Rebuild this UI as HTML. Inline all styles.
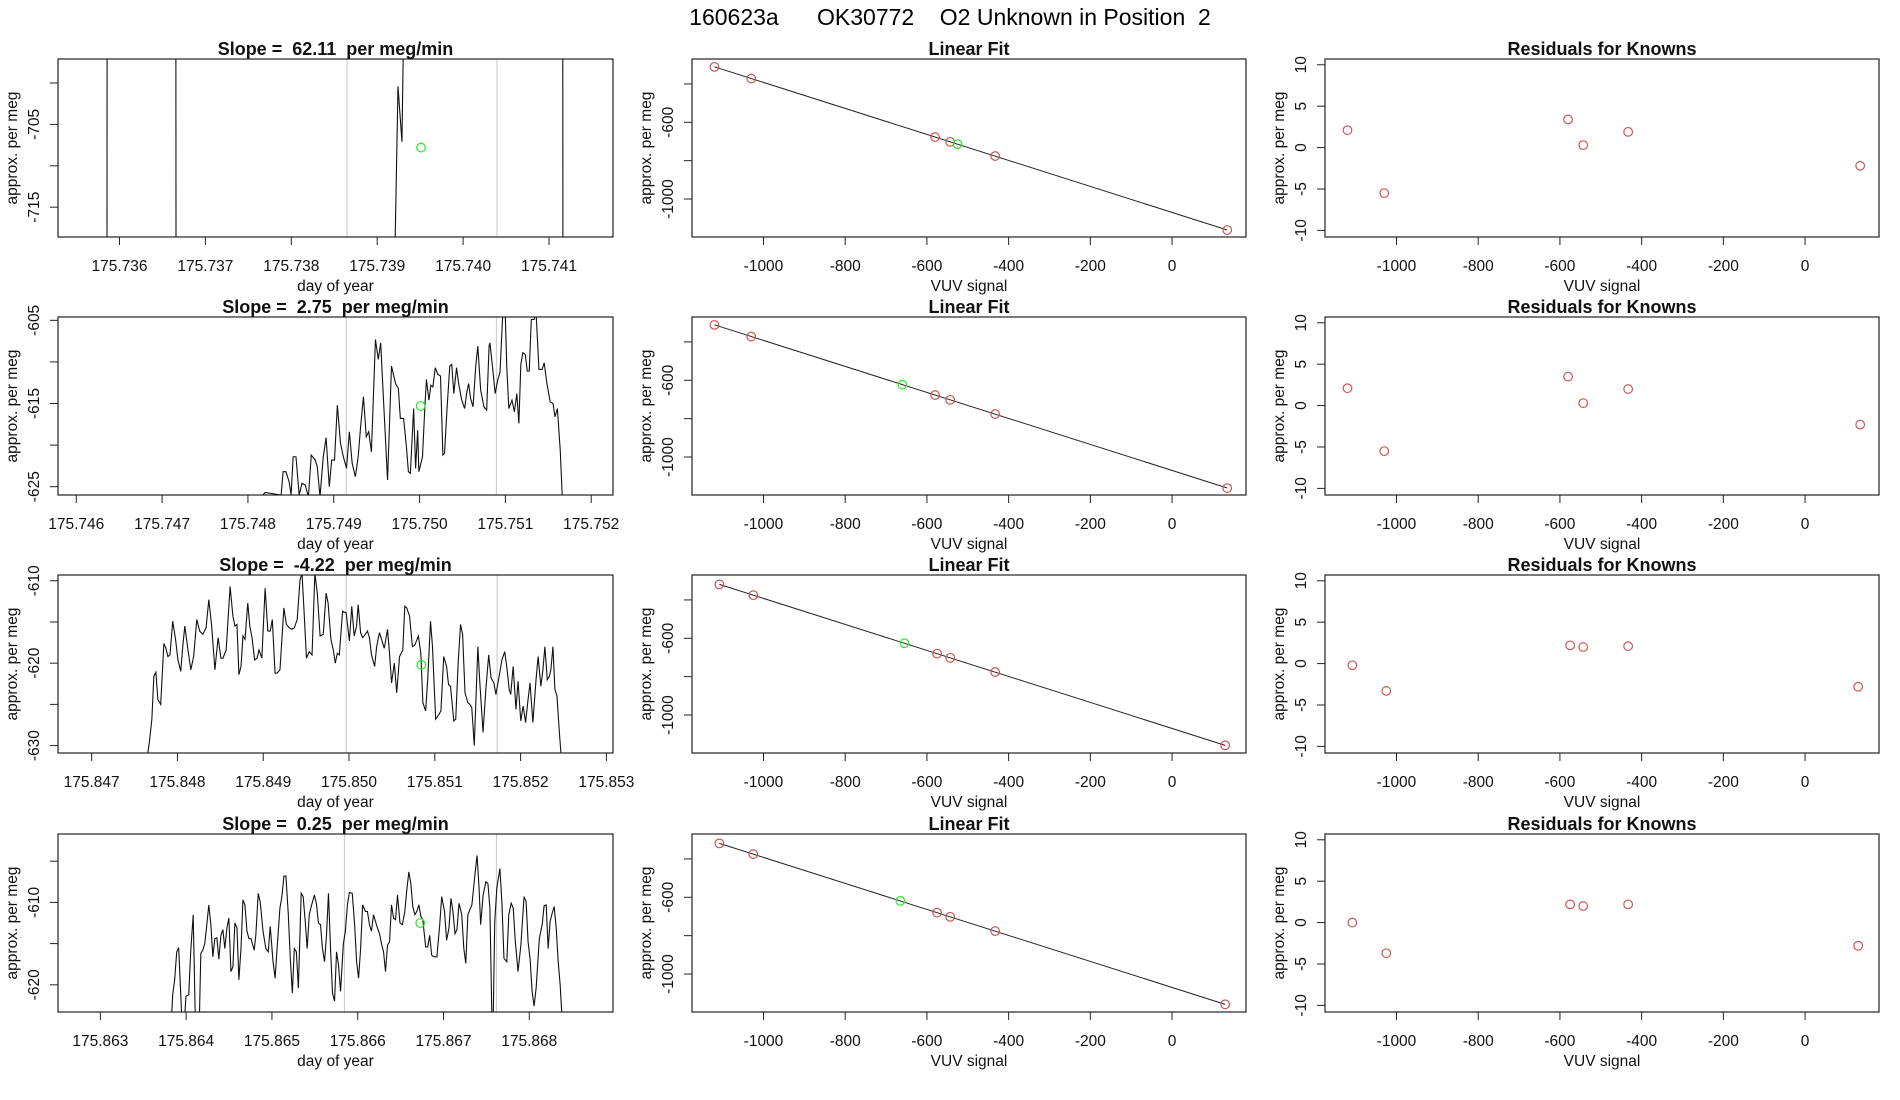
<!DOCTYPE html>
<html><head><meta charset="utf-8"><title>160623a OK30772 O2 Unknown in Position 2</title>
<style>
html,body{margin:0;padding:0;background:#fff;}
svg{display:block;font-family:"Liberation Sans",Arial,sans-serif;}
svg text{white-space:pre;}
</style></head>
<body>
<svg id="chart" width="1900" height="1100" viewBox="0 0 1900 1100" xmlns="http://www.w3.org/2000/svg">
<rect x="0" y="0" width="1900" height="1100" fill="#fff"/>
<text x="950" y="25" font-size="23" text-anchor="middle" xml:space="preserve">160623a      OK30772    O2 Unknown in Position  2</text>
</svg>
<script>
// ---------- Data ----------
const slopes = ["62.11", "2.75", "-4.22", "0.25"];

// Row 1 time series
const t1 = [175.7350, 175.735853, 175.735856, 175.736656, 175.736659, 175.739172, 175.739242, 175.739288, 175.739312, 175.741160, 175.741163, 175.7420];
const v1 = [-740, -740, -690, -690, -740, -740, -700.4, -707.1, -690, -690, -740, -740];

// Row 2 time series
const t2 = [175.748176,175.748199,175.748387,175.748410,175.748443,175.748480,175.748503,175.748527,175.748560,175.748597,175.748630,175.748667,175.748705,175.748738,175.748784,175.748808,175.748840,175.748878,175.748911,175.748948,175.748976,175.749009,175.749042,175.749079,175.749112,175.749149,175.749182,175.749215,175.749252,175.749285,175.749313,175.749346,175.749379,175.749407,175.749439,175.749486,175.749519,175.749547,175.749580,175.749627,175.749673,175.749720,175.749753,175.749776,175.749814,175.749847,175.749870,175.749893,175.749931,175.749954,175.749978,175.749992,175.750034,175.750062,175.750080,175.750109,175.750132,175.750155,175.750183,175.750212,175.750244,175.750272,175.750291,175.750319,175.750352,175.750375,175.750399,175.750431,175.750455,175.750492,175.750525,175.750548,175.750572,175.750595,175.750623,175.750656,175.750679,175.750712,175.750750,175.750782,175.750810,175.750820,175.750853,175.750881,175.750913,175.750937,175.750970,175.750998,175.751016,175.751040,175.751077,175.751105,175.751133,175.751157,175.751180,175.751203,175.751232,175.751255,175.751278,175.751302,175.751335,175.751358,175.751391,175.751428,175.751452,175.751484,175.751522,175.751555,175.751578,175.751606,175.751639,175.751662,175.751709];
const v2 = [-626.0,-625.7,-626.0,-623.2,-623.2,-624.4,-626.0,-621.4,-621.4,-626.0,-624.6,-624.8,-626.2,-621.2,-621.8,-622.6,-626.2,-621.4,-619.1,-625.0,-621.8,-621.8,-615.2,-619.8,-621.4,-622.8,-618.4,-622.2,-623.8,-621.4,-617.8,-614.2,-619.0,-618.4,-620.8,-607.3,-609.7,-607.7,-614.6,-624.2,-610.5,-612.6,-613.2,-616.8,-616.8,-620.2,-623.2,-623.4,-615.6,-622.8,-618.2,-623.2,-621.4,-615.4,-612.1,-614.6,-612.8,-613.0,-610.7,-611.5,-611.7,-621.2,-621.0,-615.8,-610.5,-610.3,-613.8,-610.7,-612.6,-614.6,-615.6,-613.8,-612.6,-614.4,-615.4,-610.3,-608.1,-613.4,-615.4,-615.8,-608.1,-607.7,-610.9,-613.8,-612.1,-611.3,-604.1,-604.1,-610.5,-615.6,-614.6,-616.0,-613.8,-617.4,-610.3,-608.9,-609.1,-611.1,-611.1,-604.9,-604.9,-604.1,-610.9,-610.9,-610.1,-612.6,-614.8,-615.0,-616.6,-615.6,-620.6,-626.0,-630.6];

// Row 3 time series
const t3 = [175.847655,175.847674,175.847702,175.847725,175.847749,175.847772,175.847805,175.847842,175.847866,175.847889,175.847913,175.847945,175.847978,175.848006,175.848039,175.848062,175.848086,175.848118,175.848156,175.848189,175.848226,175.848259,175.848296,175.848334,175.848366,175.848399,175.848437,175.848474,175.848507,175.848530,175.848568,175.848614,175.848647,175.848671,175.848694,175.848717,175.848741,175.848764,175.848788,175.848820,175.848844,175.848872,175.848900,175.848928,175.848951,175.848984,175.849022,175.849054,175.849082,175.849106,175.849138,175.849162,175.849195,175.849241,175.849270,175.849302,175.849335,175.849363,175.849396,175.849429,175.849452,175.849475,175.849504,175.849536,175.849569,175.849602,175.849630,175.849663,175.849700,175.849733,175.849756,175.849789,175.849817,175.849840,175.849864,175.849887,175.849925,175.849967,175.850004,175.850032,175.850060,175.850088,175.850107,175.850135,175.850159,175.850191,175.850215,175.850238,175.850262,175.850299,175.850322,175.850355,175.850379,175.850411,175.850449,175.850472,175.850496,175.850528,175.850556,175.850589,175.850627,175.850650,175.850673,175.850706,175.850739,175.850767,175.850809,175.850837,175.850861,175.850893,175.850917,175.850950,175.850973,175.851010,175.851048,175.851071,175.851104,175.851137,175.851160,175.851183,175.851221,175.851244,175.851272,175.851300,175.851324,175.851352,175.851385,175.851408,175.851431,175.851460,175.851502,175.851525,175.851562,175.851595,175.851628,175.851656,175.851689,175.851712,175.851750,175.851782,175.851815,175.851843,175.851867,175.851885,175.851913,175.851946,175.851970,175.852002,175.852030,175.852058,175.852087,175.852110,175.852143,175.852180,175.852204,175.852236,175.852260,175.852283,175.852311,175.852335,175.852353,175.852377,175.852400,175.852424,175.852452,175.852475];
const v3 = [-630.9,-629.5,-626.8,-621.6,-621.1,-624.4,-625.0,-617.6,-618.2,-619.2,-619.0,-614.9,-617.1,-619.6,-621.0,-618.0,-615.5,-618.0,-620.8,-619.2,-614.7,-616.1,-616.5,-615.7,-612.3,-615.5,-620.8,-616.9,-619.4,-619.4,-618.4,-610.7,-614.3,-615.5,-615.3,-621.4,-620.4,-616.7,-617.1,-612.7,-615.5,-617.1,-619.6,-619.4,-618.4,-619.4,-610.9,-616.1,-616.1,-614.7,-621.2,-621.2,-620.8,-613.3,-615.3,-615.7,-615.9,-615.7,-614.7,-609.9,-609.1,-613.5,-619.4,-618.6,-619.0,-609.1,-611.5,-616.7,-616.5,-611.5,-612.7,-617.1,-618.4,-620.0,-618.8,-619.0,-613.7,-613.9,-617.3,-613.1,-616.7,-615.5,-612.9,-616.3,-616.9,-616.5,-616.1,-616.9,-619.0,-620.4,-618.0,-616.3,-617.1,-618.2,-615.9,-618.8,-622.4,-620.0,-623.6,-619.2,-618.4,-613.1,-613.3,-614.3,-618.0,-617.8,-616.7,-618.8,-624.8,-625.8,-622.0,-614.9,-618.0,-626.8,-626.2,-625.8,-619.2,-620.4,-622.6,-622.8,-627.0,-626.8,-620.0,-615.3,-616.5,-623.6,-624.8,-625.0,-625.4,-630.0,-618.0,-622.4,-628.4,-623.2,-619.0,-621.8,-622.4,-623.8,-621.6,-619.6,-618.6,-620.8,-623.2,-623.8,-620.4,-625.6,-622.2,-627.0,-625.2,-627.2,-624.4,-622.4,-627.2,-622.0,-619.2,-622.8,-620.8,-618.0,-622.0,-621.6,-620.8,-618.0,-623.2,-624.0,-628.4,-631.6];

// Row 4 time series
const t4 = [175.863833,175.863843,175.863866,175.863890,175.863913,175.863946,175.863974,175.863998,175.864030,175.864053,175.864082,175.864105,175.864133,175.864156,175.864171,175.864194,175.864217,175.864241,175.864264,175.864288,175.864311,175.864334,175.864358,175.864381,175.864405,175.864428,175.864451,175.864475,175.864498,175.864522,175.864545,175.864568,175.864592,175.864615,175.864639,175.864662,175.864685,175.864709,175.864732,175.864756,175.864793,175.864812,175.864840,175.864863,175.864896,175.864929,175.864957,175.864980,175.865013,175.865037,175.865060,175.865093,175.865116,175.865140,175.865163,175.865191,175.865214,175.865238,175.865261,175.865285,175.865308,175.865341,175.865364,175.865388,175.865411,175.865435,175.865458,175.865495,175.865519,175.865542,175.865566,175.865589,175.865613,175.865636,175.865659,175.865683,175.865706,175.865730,175.865753,175.865776,175.865800,175.865833,175.865856,175.865880,175.865903,175.865936,175.865964,175.865987,175.866010,175.866034,175.866057,175.866090,175.866113,175.866137,175.866160,175.866184,175.866207,175.866230,175.866254,175.866277,175.866301,175.866324,175.866347,175.866371,175.866394,175.866418,175.866441,175.866464,175.866493,175.866521,175.866549,175.866572,175.866596,175.866619,175.866642,175.866666,175.866689,175.866713,175.866736,175.866759,175.866792,175.866816,175.866839,175.866862,175.866886,175.866923,175.866956,175.866979,175.867012,175.867036,175.867064,175.867087,175.867110,175.867134,175.867157,175.867181,175.867213,175.867237,175.867260,175.867284,175.867307,175.867331,175.867368,175.867391,175.867415,175.867433,175.867462,175.867494,175.867518,175.867541,175.867565,175.867579,175.867597,175.867621,175.867658,175.867682,175.867705,175.867738,175.867761,175.867789,175.867813,175.867836,175.867869,175.867902,175.867939,175.867963,175.867986,175.868009,175.868033,175.868056,175.868080,175.868117,175.868150,175.868173,175.868197,175.868220,175.868243,175.868267,175.868290,175.868314,175.868337,175.868360,175.868384];
const v4 = [-623.3,-621.2,-619.4,-616.0,-615.5,-623.3,-625.2,-621.4,-621.2,-616.0,-611.5,-623.3,-625.6,-623.3,-616.2,-615.8,-615.0,-612.7,-610.3,-612.7,-616.6,-614.4,-614.3,-616.9,-614.0,-613.3,-615.6,-613.1,-611.9,-618.4,-617.8,-612.5,-613.1,-619.4,-615.6,-609.7,-610.3,-613.5,-614.4,-614.4,-615.8,-614.0,-608.9,-609.9,-613.5,-615.6,-616.0,-612.9,-617.2,-619.2,-615.6,-610.7,-609.3,-606.8,-606.8,-611.5,-616.8,-621.0,-615.6,-616.0,-620.4,-608.9,-609.3,-612.3,-615.6,-611.5,-610.5,-609.1,-610.2,-612.5,-612.7,-615.6,-617.2,-614.0,-608.9,-615.6,-621.0,-622.0,-616.0,-617.6,-620.8,-615.0,-613.5,-610.3,-608.8,-608.9,-612.7,-617.2,-619.2,-615.6,-610.3,-611.1,-611.1,-612.7,-613.5,-611.5,-612.3,-613.1,-613.8,-615.0,-616.0,-618.4,-615.2,-614.8,-610.3,-611.9,-612.1,-609.1,-612.5,-612.7,-611.1,-608.5,-606.3,-607.7,-610.5,-611.5,-611.1,-610.3,-611.7,-612.1,-615.4,-615.4,-614.0,-616.4,-616.6,-616.6,-612.7,-609.3,-611.1,-614.6,-613.1,-609.5,-611.1,-613.8,-613.3,-610.1,-611.5,-615.6,-617.4,-611.5,-610.9,-610.3,-606.5,-604.3,-608.3,-612.7,-609.1,-607.5,-607.7,-610.7,-624.4,-624.4,-612.5,-608.3,-605.9,-610.3,-616.8,-617.2,-611.5,-610.1,-610.7,-614.6,-618.4,-615.2,-609.3,-609.9,-614.8,-616.8,-620.8,-622.6,-620.4,-614.4,-612.7,-610.4,-610.3,-615.6,-612.3,-611.3,-610.5,-613.1,-617.2,-620.0,-624.4];

// Per-row x/y axis limits and ticks (time-series column)
const tsXlim = [[175.735284, 175.741745], [175.745787, 175.752254], [175.846608, 175.853077], [175.862506, 175.868976]];
const tsYlim = [[-718.6, -697.1], [-626.0, -604.6], [-630.9, -609.3], [-623.3, -601.7]];
const tsXticks = [
  ["175.736","175.737","175.738","175.739","175.740","175.741"],
  ["175.746","175.747","175.748","175.749","175.750","175.751","175.752"],
  ["175.847","175.848","175.849","175.850","175.851","175.852","175.853"],
  ["175.863","175.864","175.865","175.866","175.867","175.868"]
];
const tsYticks = [[-715,-710,-705,-700],[-625,-620,-615,-610,-605],[-630,-625,-620,-615,-610],[-620,-615,-610,-605]];
const tsYlabels = [["-715","","-705",""],["-625","","-615","","-605"],["-630","","-620","","-610"],["-620","","-610",""]];
const grayLines = [[175.738648, 175.740395], [175.749146, 175.750896], [175.849967, 175.851727], [175.865846, 175.867618]];
const unkTime = [175.739510, 175.750012, 175.850843, 175.866729];
const unkValue = [-707.8, -615.3, -620.2, -612.5];

// Linear fit column
const knownX = [[-1120,-1030,-580,-543,-433,135],[-1120,-1030,-580,-543,-433,135],[-1108,-1025,-575,-543,-433,130],[-1108,-1025,-575,-543,-433,130]];
const knownY = [[-311,-372,-677,-702,-776,-1162],[-311,-372,-677,-702,-776,-1162],[-319,-375,-680,-702,-776,-1158],[-319,-375,-680,-702,-776,-1158]];
const fitSlope = [-0.678, -0.678, -0.678, -0.678];
const fitIntercept = [-1070, -1070, -1070, -1070];
const unkSignal = [-525, -660, -655, -665];
const unkFitY = [-714, -623, -626, -619];
const lfXlim = [-1175, 181];
const lfYlim = [-1198, -270];
const lfYticks = [-1000, -800, -600, -400];
const lfYlabels = ["-1000", "", "-600", ""];
const vuvTicks = [-1000, -800, -600, -400, -200, 0];

// Residuals column
const residuals = [[2.1,-5.5,3.4,0.3,1.9,-2.2],[2.1,-5.5,3.5,0.3,2.0,-2.3],[-0.2,-3.3,2.2,2.0,2.1,-2.8],[0.0,-3.7,2.2,2.0,2.2,-2.8]];
const resYlim = [-10.8, 10.7];
const resYticks = [-10, -5, 0, 5, 10];

// ---------- Layout ----------
const NS = "http://www.w3.org/2000/svg";
const svg = document.getElementById("chart");
const colX = [[58, 613], [692, 1246], [1325, 1879]];
const rowY = [[59, 237], [317, 495], [575, 753], [834, 1012]];
const RED = "#cc5555", GREEN = "#22ee22";

function mk(tag, attrs, parent) {
  const e = document.createElementNS(NS, tag);
  for (const k in attrs) e.setAttribute(k, attrs[k]);
  (parent || svg).appendChild(e);
  return e;
}
function scale(d0, d1, r0, r1) { return v => r0 + (v - d0) * (r1 - r0) / (d1 - d0); }

function frame(g, x0, x1, y0, y1, xs, ys, xt, xl, yt, yl, title, xtitle) {
  const box = mk("rect", {x: x0, y: y0, width: x1 - x0, height: y1 - y0, fill: "none", stroke: "#222", "stroke-width": 1.2}, g);
  
  
  const xa = mk("g", {}, g);
  
  
  xt.forEach((v, i) => {
    const px = xs(v);
    mk("line", {x1: px, x2: px, y1: y1, y2: y1 + 8, stroke: "#222", "stroke-width": 1}, xa);
    const tx = mk("text", {x: px, y: y1 + 34, "font-size": 15.5, "text-anchor": "middle", fill: "#111"}, xa);
    
    
    tx.textContent = xl[i];
  });
  const ya = mk("g", {}, g);
  
  
  yt.forEach((v, i) => {
    const py = ys(v);
    mk("line", {x1: x0 - 8, x2: x0, y1: py, y2: py, stroke: "#222", "stroke-width": 1}, ya);
    if (yl[i] !== "") {
      const tx = mk("text", {x: x0 - 19, y: py, "font-size": 15.5, "text-anchor": "middle", fill: "#111", transform: `rotate(-90 ${x0 - 19} ${py})`}, ya);
      
      
      tx.textContent = yl[i];
    }
  });
  const cx = (x0 + x1) / 2, cy = (y0 + y1) / 2;
  const yt2 = mk("text", {x: x0 - 41, y: cy, "font-size": 15.5, "text-anchor": "middle", fill: "#111", transform: `rotate(-90 ${x0 - 41} ${cy})`}, g);
  
  
  yt2.textContent = "approx. per meg";
  const xt2 = mk("text", {x: cx, y: y1 + 54, "font-size": 15.5, "text-anchor": "middle", fill: "#111"}, g);
  
  
  xt2.textContent = xtitle;
  const tt = mk("text", {x: cx, y: y0 - 4, "font-size": 18, "font-weight": "bold", "text-anchor": "middle", fill: "#111", style: "white-space:pre"}, g);
  
  
  tt.textContent = title;
}

function circle(g, x, y, color, name) {
  const c = mk("circle", {cx: x, cy: y, r: 4.3, fill: "none", stroke: color, "stroke-width": 1.2}, g);
  
  
  return c;
}

const defs = mk("defs", {});
const tsData = [[t1, v1], [t2, v2], [t3, v3], [t4, v4]];

for (let r = 0; r < 4; r++) {
  const [y0, y1] = rowY[r];

  // --- Time series panel ---
  {
    const [x0, x1] = colX[0];
    const g = mk("g", {});
    
    
    const xs = scale(tsXlim[r][0], tsXlim[r][1], x0, x1);
    const ys = scale(tsYlim[r][0], tsYlim[r][1], y1, y0);
    const cp = mk("clipPath", {id: "clip" + r}, defs);
    mk("rect", {x: x0, y: y0, width: x1 - x0, height: y1 - y0}, cp);
    grayLines[r].forEach(t => {
      const l = mk("line", {x1: xs(t), x2: xs(t), y1: y0, y2: y1, stroke: "#cfcfcf", "stroke-width": 1.2}, g);
      
      
    });
    const [tt, vv] = tsData[r];
    const d = tt.map((t, i) => (i ? "L" : "M") + xs(t).toFixed(2) + " " + ys(vv[i]).toFixed(2)).join(" ");
    const p = mk("path", {d: d, fill: "none", stroke: "#111", "stroke-width": 1.1, "clip-path": `url(#clip${r})`}, g);
    
    
    circle(g, xs(unkTime[r]), ys(unkValue[r]), GREEN, 'unknown-point');
    frame(g, x0, x1, y0, y1, xs, ys,
      tsXticks[r].map(Number), tsXticks[r], tsYticks[r], tsYlabels[r],
      "Slope =  " + slopes[r] + "  per meg/min", "day of year");
  }

  // --- Linear fit panel ---
  {
    const [x0, x1] = colX[1];
    const g = mk("g", {});
    
    
    const xs = scale(lfXlim[0], lfXlim[1], x0, x1);
    const ys = scale(lfYlim[0], lfYlim[1], y1, y0);
    const kx = knownX[r], ky = knownY[r];
    const xa = Math.min(...kx), xb = Math.max(...kx);
    const fl = mk("line", {x1: xs(xa), y1: ys(fitIntercept[r] + fitSlope[r] * xa), x2: xs(xb), y2: ys(fitIntercept[r] + fitSlope[r] * xb), stroke: "#222", "stroke-width": 1}, g);
    
    
    kx.forEach((x, i) => circle(g, xs(x), ys(ky[i]), RED, 'known-point'));
    circle(g, xs(unkSignal[r]), ys(unkFitY[r]), GREEN, 'unknown-point');
    frame(g, x0, x1, y0, y1, xs, ys, vuvTicks, vuvTicks.map(String), lfYticks, lfYlabels, "Linear Fit", "VUV signal");
  }

  // --- Residuals panel ---
  {
    const [x0, x1] = colX[2];
    const g = mk("g", {});
    
    
    const xs = scale(lfXlim[0], lfXlim[1], x0, x1);
    const ys = scale(resYlim[0], resYlim[1], y1, y0);
    knownX[r].forEach((x, i) => circle(g, xs(x), ys(residuals[r][i]), RED, 'residual-point'));
    frame(g, x0, x1, y0, y1, xs, ys, vuvTicks, vuvTicks.map(String), resYticks, resYticks.map(String), "Residuals for Knowns", "VUV signal");
  }
}
</script>
</body></html>
